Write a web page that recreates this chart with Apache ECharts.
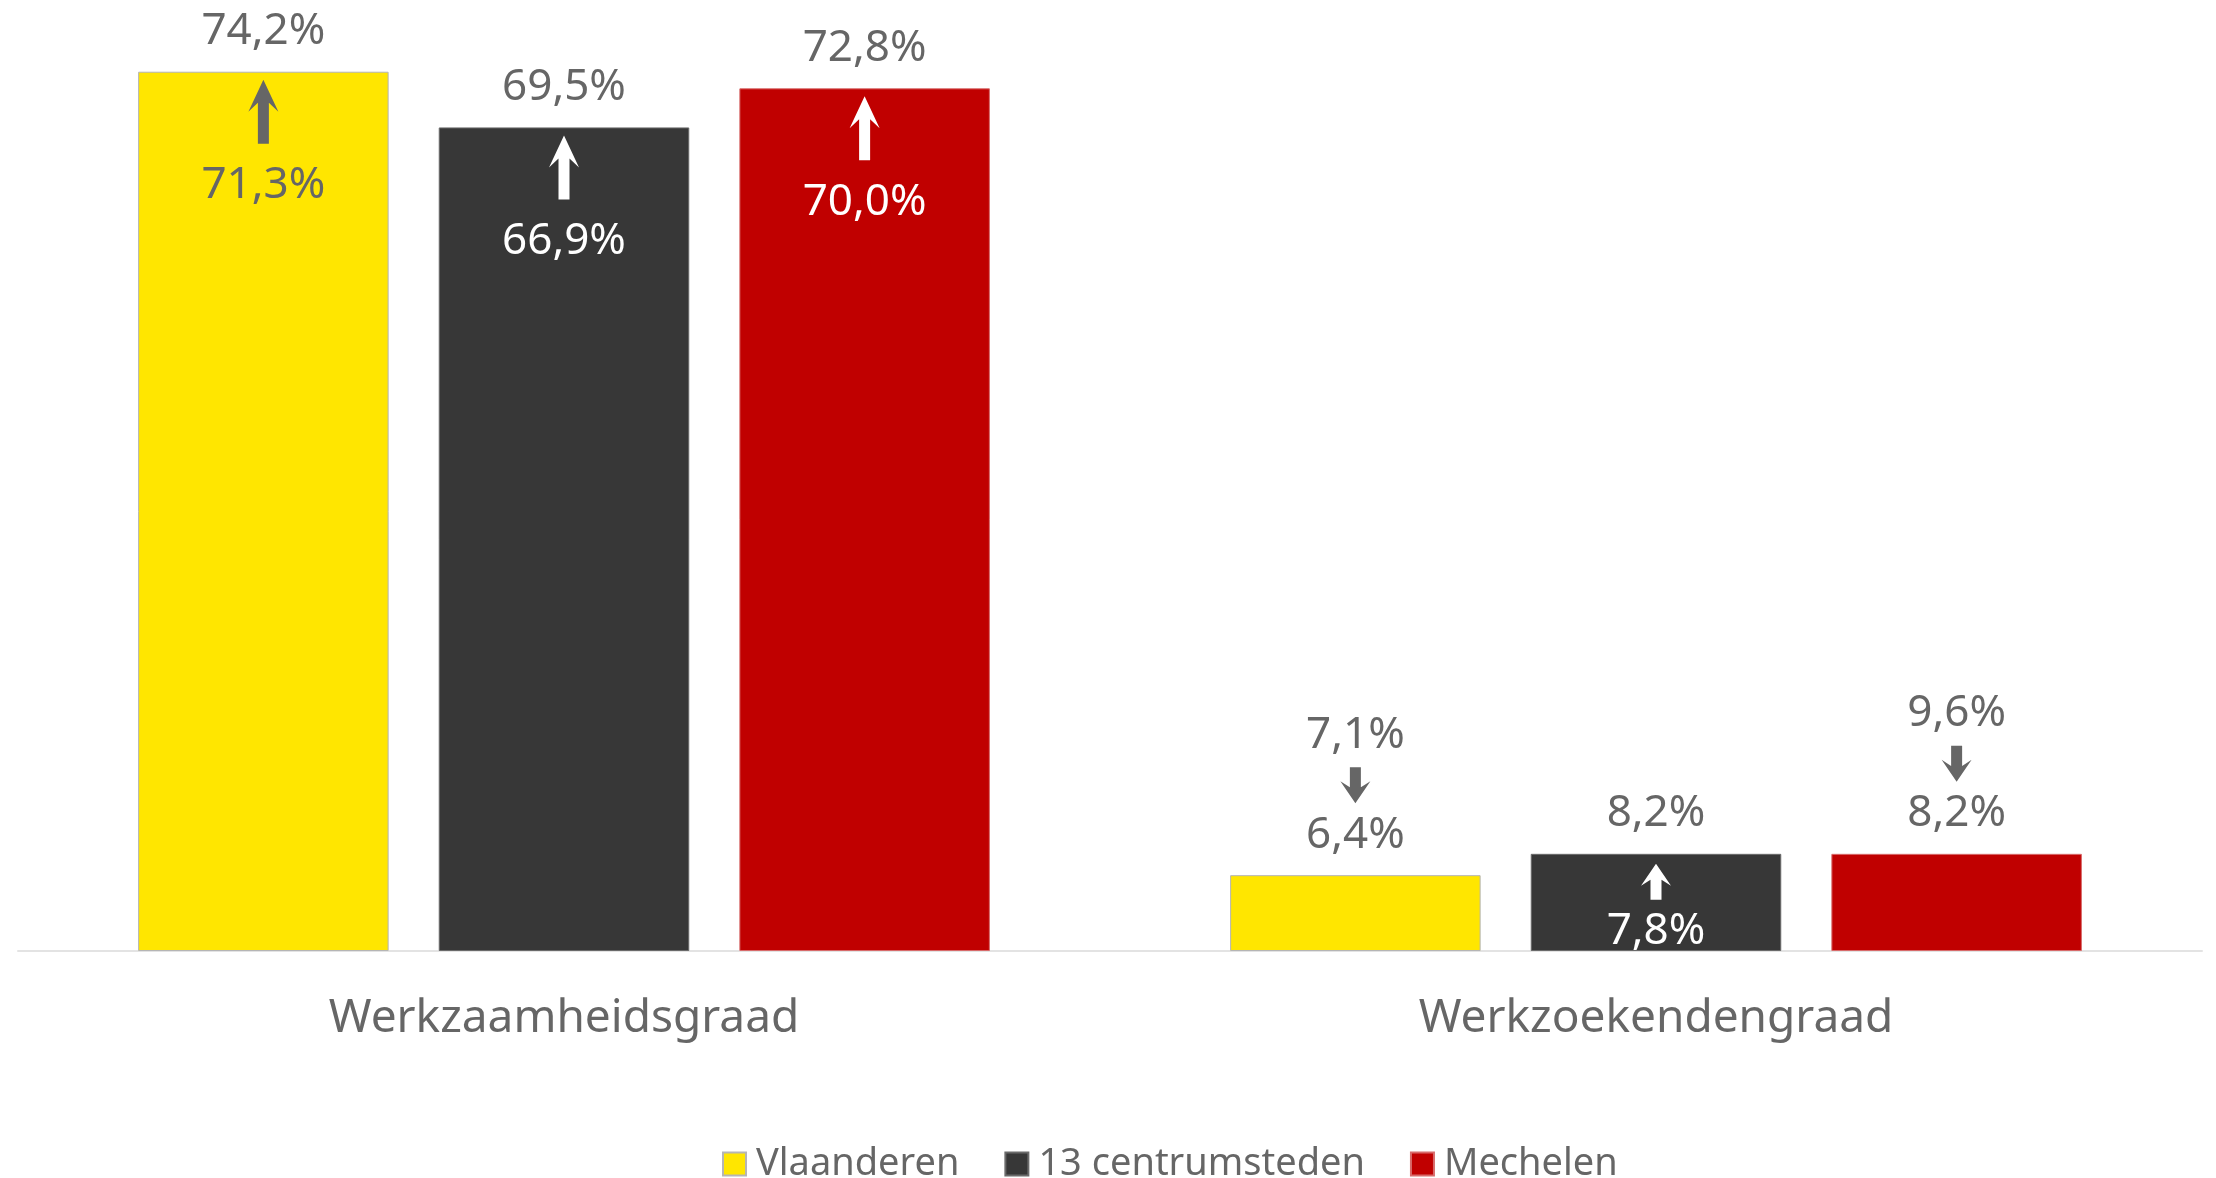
<!DOCTYPE html>
<html>

<head>
    <meta charset="utf-8">
    <title>Werkzaamheid en werkzoekenden</title>
    <script src="https://cdn.jsdelivr.net/npm/echarts@6/dist/echarts.min.js"></script>
    <style>
        html, body { margin: 0; padding: 0; background: #fff; }
    </style>
</head>

<body>
    <div id="main" style="width: 2216px;height:1178px;"></div>
    <script type="text/javascript">
        // categories and series
        var categories = ['Werkzaamheidsgraad', 'Werkzoekendengraad'];
        var seriesNames = ['Vlaanderen', '13 centrumsteden', 'Mechelen'];

        // current values (bar heights) and previous values (arrow start)
        var vlaanderenNow = [74.2, 6.4];
        var vlaanderenPrev = [71.3, 7.1];
        var centrumNow = [69.5, 8.2];
        var centrumPrev = [66.9, 7.8];
        var mechelenNow = [72.8, 8.2];
        var mechelenPrev = [70.0, 9.6];

        var colors = ['#FFE600', '#373737', '#C00000'];
        var borders = ['#b5b5b5', '#6a6a6a', '#d86a6a'];
        var GREY = '#666666';
        var FONT = 'Noto Sans';
        var CAT_GAP = 0.22, BAR_GAP = 0.2;

        var nowSets = [vlaanderenNow, centrumNow, mechelenNow];
        var prevSets = [vlaanderenPrev, centrumPrev, mechelenPrev];

        function fmt(v) {
            return v.toFixed(1).replace('.', ',') + '%';
        }

        var changeData = [];
        seriesNames.forEach(function (name, s) {
            categories.forEach(function (c, i) {
                changeData.push([i, nowSets[s][i], prevSets[s][i], s]);
            });
        });

        // arrow glyph from tip to tail
        function arrow(x, tip, tail, color, long) {
            var d = tail > tip ? 1 : -1;
            var hl = long ? 32 : 22, hw = 30, sw = 11;
            return {
                type: 'polygon',
                shape: {
                    points: [
                        [x, tip],
                        [x + hw / 2, tip + d * hl],
                        [x + sw / 2, tip + d * hl * 0.72],
                        [x + sw / 2, tail],
                        [x - sw / 2, tail],
                        [x - sw / 2, tip + d * hl * 0.72],
                        [x - hw / 2, tip + d * hl]
                    ]
                },
                style: { fill: color }
            };
        }

        function label(x, y, v, color) {
            return {
                type: 'text',
                x: x,
                y: y,
                style: {
                    text: fmt(v),
                    fill: color,
                    fontSize: 44,
                    fontFamily: FONT,
                    align: 'center',
                    verticalAlign: 'middle'
                }
            };
        }

        function renderChange(params, api) {
            var cat = api.value(0), now = api.value(1), prev = api.value(2), s = api.value(3);
            var band = api.size([1, 0])[0];
            var barW = band * (1 - CAT_GAP) / (3 + 2 * BAR_GAP);
            var base = api.coord([cat, 0]);
            var pt = api.coord([cat, now]);
            var x = pt[0] + (s - 1) * barW * (1 + BAR_GAP);
            var top = pt[1];
            var h = base[1] - top;
            var inside = s === 0 ? GREY : '#ffffff';
            var children = [];
            if (now > prev) {
                var long = h > 200;
                children.push(arrow(x, top + (long ? 8 : 10), top + (long ? 72 : 46), inside, long));
                children.push(label(x, top + (long ? 114 : 78), prev, inside));
            } else {
                children.push(arrow(x, top - 72, top - 108, GREY, false));
                children.push(label(x, top - 140, prev, GREY));
            }
            return { type: 'group', children: children };
        }

        var myChart = echarts.init(document.getElementById('main'));

        var series = seriesNames.map(function (name, s) {
            return {
                name: name,
                type: 'bar',
                data: nowSets[s],
                barGap: BAR_GAP * 100 + '%',
                barCategoryGap: CAT_GAP * 100 + '%',
                itemStyle: { color: colors[s], borderColor: borders[s], borderWidth: 1 },
                label: {
                    show: true,
                    position: 'top',
                    distance: 18,
                    fontSize: 44,
                    lineHeight: 44,
                    fontFamily: FONT,
                    color: GREY,
                    formatter: function (p) { return fmt(p.value); }
                }
            };
        });

        series.push({
            name: 'verandering',
            type: 'custom',
            renderItem: renderChange,
            clip: true,
            encode: { x: 0, y: 1 },
            data: changeData,
            z: 5
        });

        var option = {
            animation: false,
            textStyle: { fontFamily: FONT },
            legend: {
                data: seriesNames,
                left: 717,
                top: 1140,
                icon: 'rect',
                itemWidth: 23,
                itemHeight: 23,
                itemGap: 45,
                textStyle: { fontSize: 38, color: GREY, fontFamily: FONT, padding: [0, 0, 0, 5] }
            },
            grid: {
                left: 18,
                right: 14,
                top: 3,
                bottom: 227
            },
            xAxis: {
                type: 'category',
                data: categories,
                axisLine: { lineStyle: { color: '#e3e3e3', width: 2 } },
                axisTick: { show: false },
                axisLabel: {
                    fontSize: 46,
                    lineHeight: 46,
                    color: GREY,
                    fontFamily: FONT,
                    margin: 45
                }
            },
            yAxis: {
                type: 'value',
                min: 0,
                max: 80,
                show: false,
                splitLine: { show: false }
            },
            series: series
        };

        myChart.setOption(option);
    </script>
</body>

</html>
